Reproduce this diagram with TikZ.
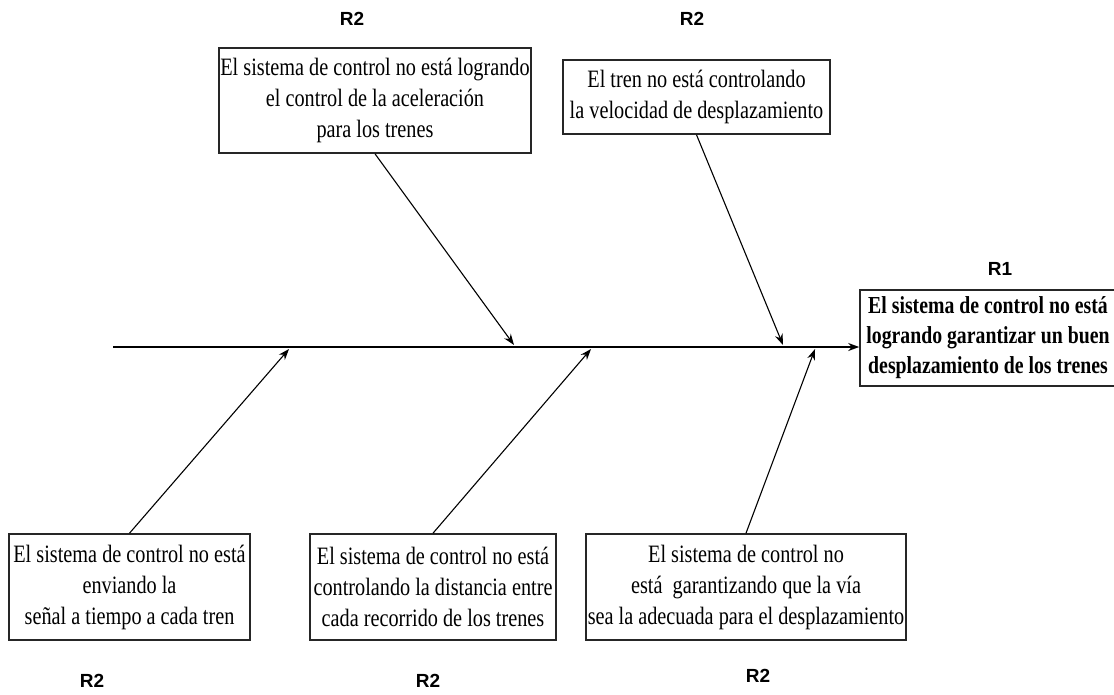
\documentclass[tikz,border=0pt]{standalone}
\usepackage{fontspec}
\setmainfont{Liberation Serif}[FakeStretch=0.81]
\newfontfamily\labfont{Liberation Sans}
\usetikzlibrary{arrows.meta}
\begin{document}
\begin{tikzpicture}[x=1pt,y=-1pt,
  cause/.style={draw=black!85,line width=1.6pt,align=center,inner sep=0pt,
    font=\fontsize{25}{31}\selectfont},
  effect/.style={draw=black!85,line width=1.6pt,align=center,inner sep=0pt,
    font=\fontsize{24.4}{30}\selectfont\bfseries},
  rlabel/.style={font=\labfont\fontsize{19}{21}\selectfont\bfseries},
  bone/.style={line width=1.1pt,-{Stealth[length=11pt,width=8pt]}},
  spine/.style={line width=1.6pt,-{Stealth[length=11pt,width=8pt]}}]
\useasboundingbox (0,0) rectangle (1114,694);
% effect
\node[effect,minimum width=256,minimum height=96] (r1) at (988,338)
  {El sistema de control no está\\logrando garantizar un buen\\desplazamiento de los trenes};
\node[rlabel] (r1l) at (1000,269) {R1};
% spine
\coordinate (s0) at (113,347);
\draw[spine] (s0) -- (s0 -| r1.west);
% top causes
\node[cause,minimum width=312,minimum height=105] (c1) at (375,100.5)
  {El sistema de control no está logrando\\el control de la aceleración\\para los trenes};
\node[rlabel] (c1l) at (352,19) {R2};
\node[cause,minimum width=267,minimum height=74] (c2) at (696.5,97)
  {El tren no está controlando\\la velocidad de desplazamiento};
\node[rlabel] (c2l) at (692,19) {R2};
% bottom causes
\node[cause,minimum width=241,minimum height=106] (c3) at (129.5,587)
  {El sistema de control no está\\enviando la\\señal a tiempo a cada tren};
\node[rlabel] (c3l) at (92,681) {R2};
\node[cause,minimum width=246,minimum height=106] (c4) at (433,587)
  {El sistema de control no está\\controlando la distancia entre\\cada recorrido de los trenes};
\node[rlabel] (c4l) at (428,681) {R2};
\node[cause,minimum width=320,minimum height=106] (c5) at (746,587)
  {El sistema de control no\\está\ \ garantizando que la vía\\sea la adecuada para el desplazamiento};
\node[rlabel] (c5l) at (758,676) {R2};
% bone ends on spine
\coordinate (e1) at (514,345);
\coordinate (e2) at (783,345);
\coordinate (e3) at (289,349);
\coordinate (e4) at (591,349);
\coordinate (e5) at (815,349);
\draw[bone] (c1.south) -- (e1);
\draw[bone] (c2.south) -- (e2);
\draw[bone] (c3.north) -- (e3);
\draw[bone] (c4.north) -- (e4);
\draw[bone] (c5.north) -- (e5);
\end{tikzpicture}
\end{document}
